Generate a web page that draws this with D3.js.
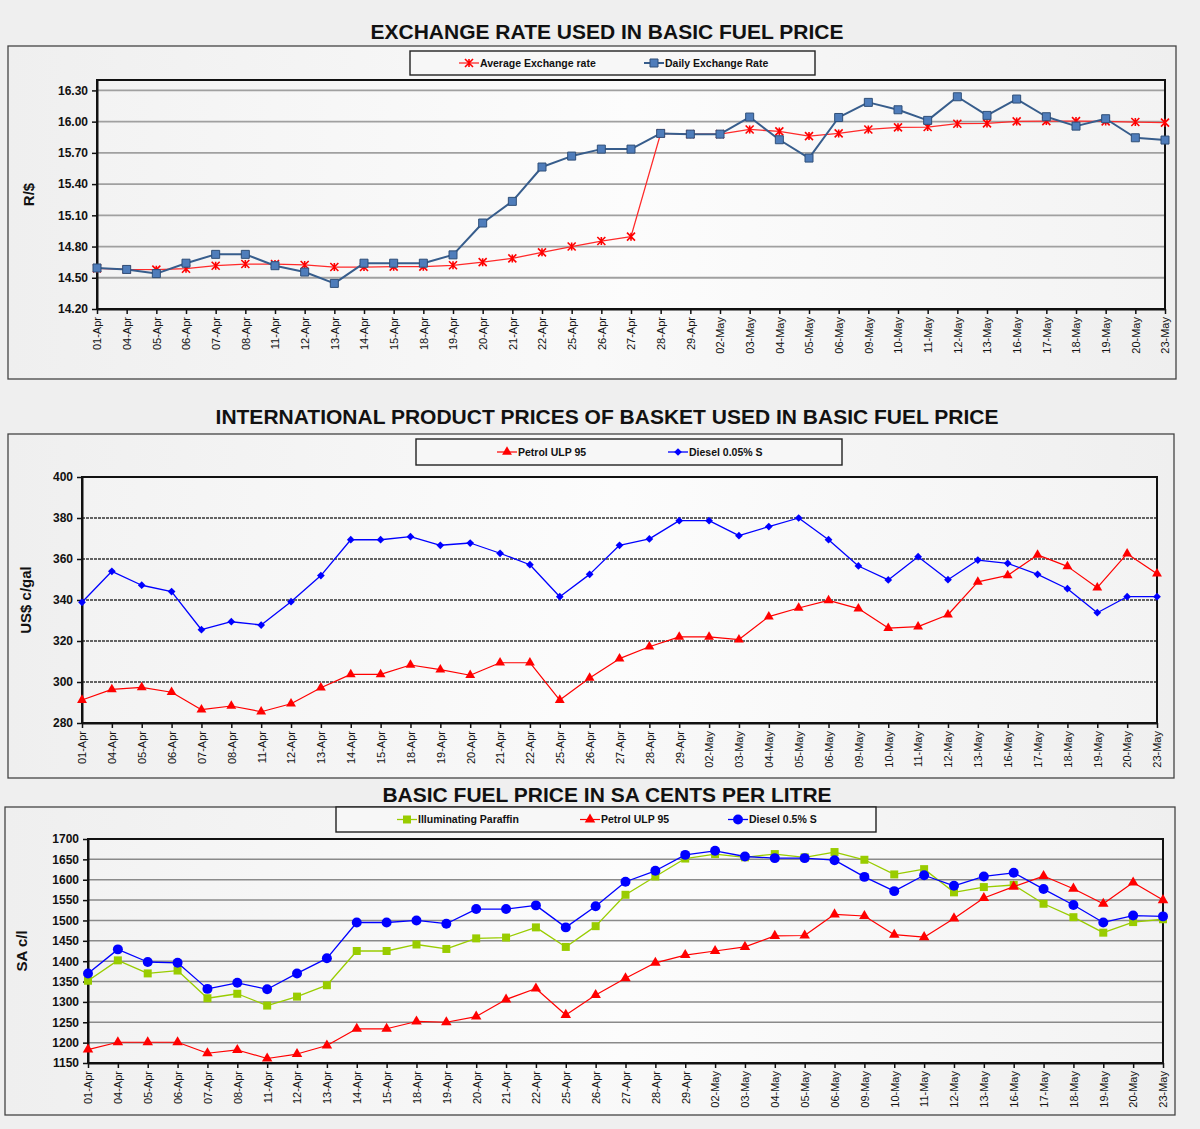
<!DOCTYPE html>
<html><head><meta charset="utf-8">
<script src="https://cdn.jsdelivr.net/npm/d3@7"></script>
<style>
body{margin:0;background:#eeeeee;}
svg{display:block;font-family:Arial,"Liberation Sans",Helvetica,sans-serif;}
</style>
</head><body>
<svg id="chart" width="1200" height="1129"></svg>
<script>
// ---------------- DATA ----------------
const categories = ["01-Apr","04-Apr","05-Apr","06-Apr","07-Apr","08-Apr","11-Apr","12-Apr","13-Apr","14-Apr","15-Apr","18-Apr","19-Apr","20-Apr","21-Apr","22-Apr","25-Apr","26-Apr","27-Apr","28-Apr","29-Apr","02-May","03-May","04-May","05-May","06-May","09-May","10-May","11-May","12-May","13-May","16-May","17-May","18-May","19-May","20-May","23-May"];

const avgExchangeRate = [14.59,14.58,14.578,14.587,14.616,14.632,14.632,14.623,14.603,14.603,14.607,14.607,14.62,14.65,14.686,14.744,14.80,14.853,14.895,15.887,15.88,15.88,15.925,15.906,15.861,15.887,15.925,15.945,15.948,15.98,15.983,16.002,16.005,16.005,16.002,15.996,15.99];
const dailyExchangeRate = [14.594,14.58,14.54,14.64,14.725,14.725,14.616,14.555,14.446,14.64,14.64,14.64,14.72,15.026,15.234,15.564,15.669,15.736,15.736,15.887,15.88,15.88,16.044,15.826,15.65,16.04,16.185,16.114,16.012,16.239,16.06,16.217,16.047,15.957,16.028,15.845,15.823];

const intlPetrol = [291.2,296.4,297.4,295.0,286.5,288.3,285.5,289.4,297.2,303.7,303.7,308.3,306.0,303.3,309.4,309.4,291.2,302.0,311.4,317.2,322.0,322.0,320.7,331.9,336.1,339.8,335.8,326.3,327.0,332.8,348.8,352.0,362.0,356.4,346.0,362.6,352.8];
const intlDiesel = [338.9,354.0,347.2,344.1,325.5,329.4,327.8,339.2,351.9,369.4,369.4,370.9,366.7,367.8,362.8,357.2,341.6,352.5,366.7,369.8,378.7,378.7,371.4,375.8,380.0,369.4,356.6,349.8,361.1,349.9,359.5,357.9,352.5,345.5,333.8,341.6,341.6];

const bfpParaffin = [1352,1402,1370,1377,1309,1320,1291,1313,1341,1425,1425,1441,1430,1456,1458,1483,1435,1486,1563,1608,1652,1663,1655,1663,1655,1668,1649,1613,1626,1569,1582,1587,1541,1508,1470,1496,1503];
const bfpPetrol = [1183,1201,1201,1201,1174,1182,1161,1172,1193,1234,1234,1252,1250,1264,1306,1333,1268,1317,1358,1396,1415,1425,1435,1462,1463,1515,1511,1465,1459,1505,1555,1583,1609,1578,1541,1593,1550];
const bfpDiesel = [1370,1429,1398,1396,1332,1347,1331,1370,1407,1495,1495,1500,1492,1528,1528,1537,1483,1535,1595,1622,1661,1671,1657,1653,1653,1648,1607,1572,1611,1585,1608,1617,1577,1538,1495,1512,1510];

const ticksExchange = [14.20,14.50,14.80,15.10,15.40,15.70,16.00,16.30];
const ticksIntl = [280,300,320,340,360,380,400];
const ticksBfp = [1150,1200,1250,1300,1350,1400,1450,1500,1550,1600,1650,1700];

const titles = ["EXCHANGE RATE USED IN BASIC FUEL PRICE","INTERNATIONAL PRODUCT PRICES OF BASKET USED IN BASIC FUEL PRICE","BASIC FUEL PRICE IN SA CENTS PER LITRE"];
const axisTitles = ["R/$","US$ c/gal","SA c/l"];
const legendNames1 = ["Average Exchange rate","Daily Exchange Rate"];
const legendNames2 = ["Petrol ULP 95","Diesel 0.05% S"];
const legendNames3 = ["Illuminating Paraffin","Petrol ULP 95","Diesel 0.5% S"];

// ---------------- DRAWING ----------------
const svg = d3.select("#chart");
const defs = svg.append("defs");
const pg = defs.append("linearGradient").attr("id","panelGrad").attr("x1","0").attr("x2","1").attr("y1","0").attr("y2","0");
pg.append("stop").attr("offset","0").attr("stop-color","#efefef");
pg.append("stop").attr("offset","0.5").attr("stop-color","#f9f9f9");
pg.append("stop").attr("offset","1").attr("stop-color","#efefef");
const ag = defs.append("linearGradient").attr("id","plotGrad").attr("x1","0").attr("x2","1").attr("y1","0").attr("y2","0");
ag.append("stop").attr("offset","0").attr("stop-color","#f3f3f3");
ag.append("stop").attr("offset","0.5").attr("stop-color","#fcfcfc");
ag.append("stop").attr("offset","1").attr("stop-color","#f3f3f3");

svg.append("rect").attr("width",1200).attr("height",1129).attr("fill","#efefef");

function markerPath(type, s){
  if(type==="star"){
    return `M${-s},${-s}L${s},${s}M${-s},${s}L${s},${-s}M0,${-s}L0,${s}`;
  }
  if(type==="square") return d3.symbol(d3.symbolSquare, s*s)();
  if(type==="triangle") return d3.symbol(d3.symbolTriangle, s)();
  if(type==="circle") return d3.symbol(d3.symbolCircle, s)();
  if(type==="diamond") return d3.symbol(d3.symbolSquare, s)();
}

function drawMarker(g, m, x, y){
  const p = g.append("path").attr("d", markerPath(m.type, m.size))
    .attr("transform", `translate(${x},${y})${m.type==="diamond"?" rotate(45)":""}`);
  if(m.type==="star"){
    p.attr("fill","none").attr("stroke",m.fill).attr("stroke-width",1.6);
  } else {
    p.attr("fill",m.fill).attr("stroke",m.stroke||"none").attr("stroke-width",m.strokeWidth||0);
  }
}

function drawPanel(cfg){
  const g = svg.append("g");
  // title
  g.append("text").attr("x",cfg.titleX).attr("y",cfg.titleY).attr("text-anchor","middle")
    .attr("font-size",21).attr("font-weight","bold").attr("fill","#111").text(cfg.title);
  // panel box
  g.append("rect").attr("x",cfg.box[0]).attr("y",cfg.box[1]).attr("width",cfg.box[2]-cfg.box[0]).attr("height",cfg.box[3]-cfg.box[1])
    .attr("fill","url(#panelGrad)").attr("stroke","#444").attr("stroke-width",1.3);
  // legend box
  const lb = cfg.legendBox;
  g.append("rect").attr("x",lb[0]).attr("y",lb[1]).attr("width",lb[2]-lb[0]).attr("height",lb[3]-lb[1])
    .attr("fill","#f7f7f7").attr("stroke","#222").attr("stroke-width",1.4);
  const ly = (lb[1]+lb[3])/2;
  cfg.series.forEach((s,i)=>{
    const mx = cfg.legendX[i];
    g.append("line").attr("x1",mx-10).attr("x2",mx+10).attr("y1",ly).attr("y2",ly)
      .attr("stroke",s.color).attr("stroke-width",s.width);
    drawMarker(g, s.marker, mx, ly);
    g.append("text").attr("x",mx+11).attr("y",ly).attr("dy","0.35em").attr("font-size",10.5).attr("font-weight","bold")
      .attr("fill","#111").text(s.name);
  });

  const [L,T,R,B] = cfg.plot;
  const x = d3.scalePoint().domain(categories).range([L,R]);
  const y = d3.scaleLinear().domain(cfg.yDomain).range([B,T]);

  g.append("rect").attr("x",L).attr("y",T).attr("width",R-L).attr("height",B-T).attr("fill","url(#plotGrad)");

  // grid
  g.append("g").selectAll("line").data(cfg.ticks.filter(t=>y(t)<B-1 && y(t)>T+1)).join("line")
    .attr("x1",L).attr("x2",R).attr("y1",d=>y(d)).attr("y2",d=>y(d))
    .attr("stroke",cfg.gridColor).attr("stroke-width",cfg.gridWidth)
    .attr("stroke-dasharray",cfg.gridDash||null);

  // frame
  g.append("rect").attr("x",L).attr("y",T).attr("width",R-L).attr("height",B-T)
    .attr("fill","none").attr("stroke","#111").attr("stroke-width",2);

  // y axis
  const ya = g.append("g").attr("transform",`translate(${L},0)`)
    .call(d3.axisLeft(y).tickValues(cfg.ticks).tickSize(5).tickSizeOuter(0).tickPadding(4).tickFormat(cfg.fmt));
  ya.select(".domain").attr("stroke","#111").attr("stroke-width",2);
  ya.selectAll(".tick line").attr("stroke","#111").attr("stroke-width",1.5);
  ya.selectAll(".tick text").attr("font-size",12).attr("font-weight","bold").attr("fill","#111")
    .attr("font-family","Arial,'Liberation Sans',sans-serif");

  // x axis
  const xa = g.append("g").attr("transform",`translate(0,${B})`)
    .call(d3.axisBottom(x).tickSize(5).tickSizeOuter(0));
  xa.select(".domain").attr("stroke","#111").attr("stroke-width",2);
  xa.selectAll(".tick line").attr("stroke","#111").attr("stroke-width",1.5);
  xa.selectAll(".tick text").attr("font-size",11).attr("fill","#111")
    .attr("font-family","Arial,'Liberation Sans',sans-serif")
    .attr("transform","rotate(-90)").attr("text-anchor","end")
    .attr("x",-8).attr("y",0).attr("dy","0.35em");

  // axis title
  g.append("text").attr("transform",`translate(${cfg.axisTitleX},${(T+B)/2}) rotate(-90)`)
    .attr("text-anchor","middle").attr("dy","0.35em").attr("font-size",15).attr("font-weight","bold")
    .attr("fill","#111").text(cfg.axisTitle);

  // series
  cfg.series.forEach(s=>{
    const line = d3.line().x((d,i)=>x(categories[i])).y(d=>y(d));
    g.append("path").datum(s.values).attr("d",line).attr("fill","none")
      .attr("stroke",s.color).attr("stroke-width",s.width).attr("stroke-linejoin","round");
    const mg = g.append("g");
    s.values.forEach((v,i)=>drawMarker(mg, s.marker, x(categories[i]), y(v)));
  });
}

drawPanel({
  title: titles[0], titleX: 607, titleY: 39,
  box: [8,46,1176,379],
  legendBox: [410,51,815,75], legendX: [469,654],
  plot: [97,80,1165,309],
  yDomain: [14.20,16.40], ticks: ticksExchange, fmt: d3.format(".2f"),
  gridColor: "#a0a0a0", gridWidth: 1.8,
  axisTitle: axisTitles[0], axisTitleX: 29,
  series: [
    {name: legendNames1[0], values: avgExchangeRate, color: "#ff2a2a", width: 1.3,
     marker: {type:"star", size:4, fill:"#ff0000"}},
    {name: legendNames1[1], values: dailyExchangeRate, color: "#375d8c", width: 2,
     marker: {type:"square", size:8, fill:"#4f7dbb", stroke:"#2f4f78", strokeWidth:1}}
  ]
});

drawPanel({
  title: titles[1], titleX: 607, titleY: 424,
  box: [8,434,1174,778],
  legendBox: [416,439,842,465], legendX: [507,678],
  plot: [82,477,1157,723],
  yDomain: [280,400], ticks: ticksIntl, fmt: d3.format("d"),
  gridColor: "#333", gridWidth: 1.4, gridDash: "3,1",
  axisTitle: axisTitles[1], axisTitleX: 26,
  series: [
    {name: legendNames2[0], values: intlPetrol, color: "#ff0000", width: 1.2,
     marker: {type:"triangle", size:42, fill:"#ff0000"}},
    {name: legendNames2[1], values: intlDiesel, color: "#0000ff", width: 1.3,
     marker: {type:"diamond", size:30, fill:"#0000ff"}}
  ]
});

drawPanel({
  title: titles[2], titleX: 607, titleY: 802,
  box: [5,807,1175,1115],
  legendBox: [336,807,876,832], legendX: [407,590,738],
  plot: [88,839,1163,1063],
  yDomain: [1150,1700], ticks: ticksBfp, fmt: d3.format("d"),
  gridColor: "#8a8a8a", gridWidth: 1.5,
  axisTitle: axisTitles[2], axisTitleX: 22,
  series: [
    {name: legendNames3[0], values: bfpParaffin, color: "#99cc00", width: 1.3,
     marker: {type:"square", size:8, fill:"#99cc00"}},
    {name: legendNames3[1], values: bfpPetrol, color: "#ff0000", width: 1.2,
     marker: {type:"triangle", size:48, fill:"#ff0000"}},
    {name: legendNames3[2], values: bfpDiesel, color: "#0000ff", width: 1.3,
     marker: {type:"circle", size:78, fill:"#0000ff"}}
  ]
});
</script>
</body></html>
